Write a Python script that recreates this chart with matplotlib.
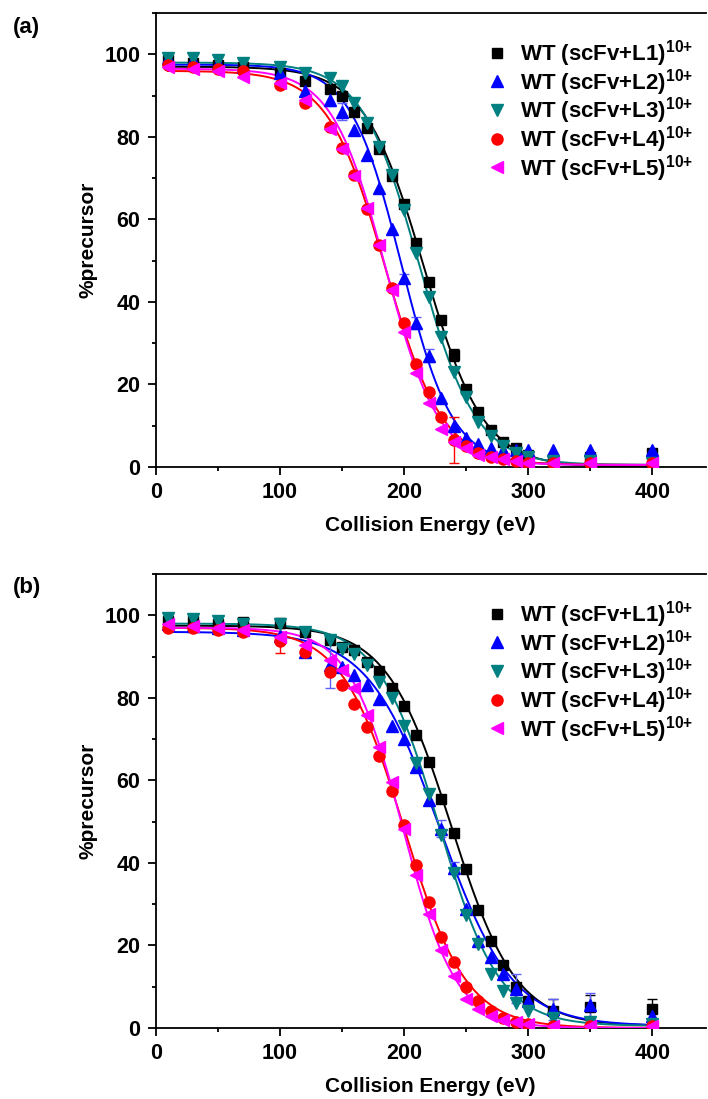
import numpy as np
import matplotlib
matplotlib.use("Agg")
import matplotlib.pyplot as plt
from matplotlib.lines import Line2D
from matplotlib.ticker import MultipleLocator

plt.rcParams['font.family'] = ['Liberation Sans', 'DejaVu Sans']
plt.rcParams['font.weight'] = 'bold'
plt.rcParams['mathtext.fontset'] = 'custom'
plt.rcParams['mathtext.rm'] = 'Liberation Sans:bold'
plt.rcParams['mathtext.bf'] = 'Liberation Sans:bold'

# ---------------- data ----------------
energy = [10, 30, 50, 70, 100, 120, 140, 150, 160, 170, 180, 190, 200, 210,
          220, 230, 240, 250, 260, 270, 280, 290, 300, 320, 350, 400]

labels = ['WT (scFv+L1)', 'WT (scFv+L2)', 'WT (scFv+L3)', 'WT (scFv+L4)', 'WT (scFv+L5)']
colors = ['#000000', '#0000FF', '#008080', '#FF0000', '#FF00FF']
markers = ['s', '^', 'v', 'o', '<']

# panel (a)
a_L1 = [98.5, 98, 97.5, 97, 95.5, 93.5, 91.5, 89.8, 86.1, 82.2, 77.1, 70.5, 63.8, 54.3,
        44.8, 35.6, 27.2, 19, 13.3, 9, 6, 4.5, 3, 2, 2.5, 3.5]
a_L2 = [99, 98.5, 98, 97, 95.5, 91, 89, 86.1, 81.7, 75.6, 67.6, 57.7, 45.8, 34.9,
        27, 16.7, 10, 7, 5.5, 4.5, 4, 4, 4, 4, 4, 4]
a_L3 = [99, 99, 98.5, 98, 97, 95.5, 94.3, 92.2, 88.2, 83.4, 77.6, 70.8, 62.3, 51.8,
        41.3, 31.6, 23.1, 17, 11, 7.5, 5, 3.5, 2.5, 1.5, 1.5, 1]
a_L4 = [97.5, 97, 96.5, 96, 92.6, 88.3, 82.5, 77.3, 70.8, 62.5, 53.8, 43.4, 34.9, 25,
        18.2, 12.1, 6.5, 5, 3.5, 2.5, 2, 1.5, 1, 1, 1, 1]
a_L5 = [97, 96.5, 96, 94.5, 93, 89, 82, 77, 70.5, 62.8, 53.8, 43, 32.8, 22.8,
        15.6, 9.2, 6, 4.5, 3, 2.5, 2, 1.5, 1, 1, 1, 1]

a_err_L1 = [0]*16 + [1.5] + [0]*9
a_err_L2 = [0]*6 + [1.5, 2, 0, 0, 0, 0, 1, 1.5, 1.5] + [0]*11
a_err_L3 = [0]*26
a_err_L4 = [0]*16 + [5.5] + [0]*9
a_err_L5 = [0]*26

# panel (b)
b_L1 = [98.5, 98.5, 98, 98.4, 98.1, 96, 93.9, 92.3, 91.5, 88.7, 86.4, 82.3, 77.9, 70.9,
        64.4, 55.6, 47.2, 38.5, 28.6, 21.2, 15.2, 10, 6.5, 4, 5, 4.5]
b_L2 = [98, 97.5, 97, 96.5, 95, 91, 88, 87.5, 85.5, 83, 79.6, 73.1, 70, 63.2,
        55.2, 48.3, 38.8, 28.9, 21.2, 17.2, 13.1, 9.5, 6.5, 4.5, 5.5, 3]
b_L3 = [99.3, 99, 98.5, 98, 98, 96, 94, 91.9, 90.7, 87.9, 83.8, 79.9, 73.1, 64.1,
        56.8, 46.7, 37.5, 27.3, 20.4, 13.1, 9, 6, 4, 2.5, 1.5, 1]
b_L4 = [97, 97, 96.5, 96, 93.8, 91.1, 86.3, 83, 78.6, 72.9, 65.8, 57.4, 49.3, 39.4,
        30.5, 22, 16, 10, 6.5, 4, 2.5, 1.5, 1, 0.5, 0.5, 0.5]
b_L5 = [98, 97.5, 97, 96.4, 94.7, 92.7, 89.1, 86.7, 82.3, 75.8, 68.1, 59.6, 48.1, 37,
        27.7, 18.8, 12.7, 7, 4.5, 3, 2, 1.5, 1, 0.5, 0.5, 0.5]

b_err_L1 = [0]*23 + [3, 3, 2.5]
b_err_L2 = [0]*6 + [5.5] + [0]*8 + [2, 1.5] + [0]*4 + [3.5, 0, 2.5, 3, 0]
b_err_L3 = [0]*26
b_err_L4 = [0]*4 + [3] + [0]*21
b_err_L5 = [0]*26

# Boltzmann fit parameters (A1, A2, x0, dx) for each series
a_fit_A1 = [97, 97.5, 98, 96, 96.5]
a_fit_A2 = [0, 0.5, 0.5, 0.5, 0.5]
a_fit_x0 = [216, 198, 212, 185, 185]
a_fit_dx = [24, 20.5, 23, 23, 21.5]

b_fit_A1 = [97.5, 96, 98, 97, 97]
b_fit_A2 = [0.5, 0.5, 0.5, 0, 0]
b_fit_x0 = [238, 229, 228, 200, 199]
b_fit_dx = [26, 29, 24.5, 25, 21.5]

panels = [
    ('(a)', [a_L1, a_L2, a_L3, a_L4, a_L5], [a_err_L1, a_err_L2, a_err_L3, a_err_L4, a_err_L5],
     (a_fit_A1, a_fit_A2, a_fit_x0, a_fit_dx)),
    ('(b)', [b_L1, b_L2, b_L3, b_L4, b_L5], [b_err_L1, b_err_L2, b_err_L3, b_err_L4, b_err_L5],
     (b_fit_A1, b_fit_A2, b_fit_x0, b_fit_dx)),
]

msizes = {'s': 6.5, '^': 8.5, 'v': 8.5, 'o': 8, '<': 8.5}

W, H = 708, 1099
fig = plt.figure(figsize=(W/100, H/100), dpi=100)

ax_left = 155.7 / W
ax_w = 550 / W
ax_h = 454 / H
bottoms = [1 - 467 / H, 1 - 1028 / H]
label_y = [1 - 27 / H, 1 - 588 / H]

xfit = np.linspace(10, 400, 400)

for p, (tag, series, errs, fit) in enumerate(panels):
    ax = fig.add_axes([ax_left, bottoms[p], ax_w, ax_h])
    A1s, A2s, x0s, dxs = fit
    for i in range(5):
        yfit = A2s[i] + (A1s[i] - A2s[i]) / (1 + np.exp((xfit - x0s[i]) / dxs[i]))
        ax.plot(xfit, yfit, color=colors[i], lw=1.4, zorder=2 + i)
    for i in range(5):
        e = np.array(errs[i], dtype=float)
        ecol = colors[i] if i != 1 else '#6060FF'
        ax.errorbar(energy, series[i], yerr=np.where(e > 0, e, np.nan), fmt='none',
                    ecolor=ecol, elinewidth=1.0, capsize=3.5, capthick=1.0, zorder=8 + i)
        ax.plot(energy, series[i], linestyle='none', marker=markers[i],
                ms=msizes[markers[i]], color=colors[i], mec=colors[i], zorder=14 + i)

    ax.set_xlim(0, 443)
    ax.set_ylim(0, 110)
    ax.xaxis.set_major_locator(MultipleLocator(100))
    ax.xaxis.set_minor_locator(MultipleLocator(50))
    ax.yaxis.set_major_locator(MultipleLocator(20))
    ax.yaxis.set_minor_locator(MultipleLocator(10))
    ax.spines['right'].set_visible(False)
    for s in ['left', 'bottom', 'top']:
        ax.spines[s].set_linewidth(1.3)
    ax.tick_params(which='major', direction='out', length=6, width=1.3,
                   labelsize=15.5, top=False, right=False, pad=5)
    ax.tick_params(which='minor', direction='out', length=3, width=1.3,
                   top=False, right=False)
    for t in ax.get_xticklabels() + ax.get_yticklabels():
        t.set_fontweight('bold')
    ax.set_xlabel('Collision Energy (eV)', fontsize=15, fontweight='bold', labelpad=9)
    ax.set_ylabel('%precursor', fontsize=15, fontweight='bold', labelpad=5)

    handles = [Line2D([], [], linestyle='none', marker=markers[i], color=colors[i],
                      ms=msizes[markers[i]]) for i in range(5)]
    leg_labels = [lab + r'$^{\mathbf{10{+}}}$' for lab in labels]
    ax.legend(handles, leg_labels, loc='upper left', bbox_to_anchor=(0.6, 0.945),
              frameon=False, handlelength=1.0, handletextpad=0.55,
              labelspacing=-0.1, borderpad=0, borderaxespad=0,
              prop={'weight': 'bold', 'size': 16})

    fig.text(0.038, label_y[p], tag, fontsize=16, fontweight='bold',
             ha='center', va='center')

fig.savefig('out.png', dpi=100)
